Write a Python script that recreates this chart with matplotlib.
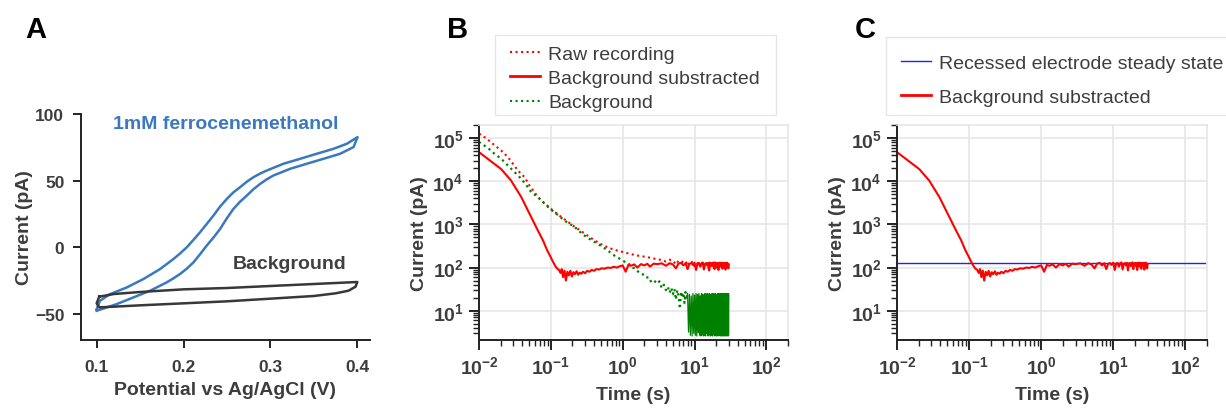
import matplotlib
matplotlib.use("Agg")
import matplotlib.pyplot as plt
import numpy as np
from matplotlib.ticker import FuncFormatter, LogLocator, NullFormatter
from matplotlib.lines import Line2D
from matplotlib.patches import Rectangle

plt.rcParams['font.family'] = ['Liberation Sans', 'DejaVu Sans']
plt.rcParams['mathtext.fontset'] = 'custom'
plt.rcParams['mathtext.rm'] = 'Liberation Sans:bold'
plt.rcParams['mathtext.bf'] = 'Liberation Sans:bold'
plt.rcParams['mathtext.it'] = 'Liberation Sans:bold'

# ---------------- Panel A: cyclic voltammograms ----------------
cv_fc_up_v = [0.1, 0.1038, 0.1154, 0.1346, 0.1538, 0.173, 0.1883, 0.196, 0.2037, 0.2113,
              0.219, 0.2267, 0.2344, 0.242, 0.2498, 0.2575, 0.2651, 0.273, 0.2805, 0.288,
              0.2958, 0.315, 0.3342, 0.3534, 0.3726, 0.388, 0.4003]
cv_fc_up_i = [-46.4, -40.1, -35.1, -30.1, -23.8, -16.3, -8.8, -4.6, 0, 5.5,
              11.3, 17.5, 23.8, 30.5, 36.3, 41.3, 45.1, 49.3, 52.6, 55.3,
              57.6, 62.7, 66.4, 70.2, 73.9, 77.7, 82.7]
cv_fc_dn_v = [0.4003, 0.3957, 0.3803, 0.3611, 0.3419, 0.3227, 0.3035, 0.2958, 0.2882, 0.2805,
              0.2728, 0.265, 0.2574, 0.2497, 0.2421, 0.2344, 0.2267, 0.219, 0.2114, 0.2037,
              0.196, 0.188, 0.1806, 0.1614, 0.1422, 0.123, 0.1]
cv_fc_dn_i = [82.7, 75.2, 70.2, 66.4, 62.7, 58.9, 53.9, 51.0, 47.6, 43.6,
              38.8, 34.2, 28.8, 21.6, 13.8, 7.3, 1.3, -5.2, -11.3, -16.0,
              -20, -23.4, -26.3, -32.6, -37.6, -42.6, -47.6]
cv_bg_v = [0.103, 0.12, 0.15, 0.2, 0.25, 0.3, 0.35, 0.4, 0.398, 0.39, 0.375, 0.35,
           0.3, 0.25, 0.2, 0.15, 0.12, 0.103, 0.1, 0.103]
cv_bg_i = [-37, -35, -33.5, -31.5, -30.5, -29, -27.5, -26, -29.5, -32.5, -34.5, -36.5,
           -38.5, -40.5, -42, -43.5, -44.5, -45, -42, -37]

# ---------------- Panels B and C: chronoamperometry ----------------
t_tail = [3.0, 3.5, 4.0, 4.5, 5.0, 5.5, 6.0, 6.5, 7.0, 7.5, 8.0, 8.5, 9.0, 9.5, 10.0,
          10.5, 11.0, 11.5, 12.0, 12.5, 13.0, 13.5, 14.0, 14.5, 15.0, 15.5, 16.0, 16.5,
          17.0, 17.5, 18.0, 18.5, 19.0, 19.5, 20.0, 20.5, 21.0, 21.5, 22.0, 22.5, 23.0,
          23.5, 24.0, 24.5, 25.0, 25.5, 26.0, 26.5, 27.0, 27.5, 28.0, 28.5, 29.0, 29.5, 30.0]

t_raw_head = [0.01, 0.0108, 0.0133, 0.0165, 0.0204, 0.0253, 0.0304, 0.0348, 0.0431, 0.0505,
              0.0597, 0.0697, 0.083, 0.1, 0.125, 0.163, 0.21, 0.264, 0.35, 0.48, 0.6, 0.75,
              1.0, 1.3, 1.6, 2.1, 2.6]
i_raw_head = [1.25e5, 1.19e5, 9.1e4, 6.8e4, 5.1e4, 3.6e4, 2.4e4, 1.76e4, 1.24e4, 7.9e3,
              5.4e3, 3.9e3, 3.0e3, 2.3e3, 1.7e3, 1.23e3, 900, 700, 500, 360, 300, 260,
              230, 205, 190, 176, 165]
i_raw_tail = [155, 150, 138, 152, 146, 118, 145, 140, 132, 142, 110, 138, 130, 140, 96,
              132, 125, 138, 100, 130, 135, 98, 128, 120, 134, 92, 126, 130, 105, 128,
              132, 95, 125, 130, 100, 127, 120, 133, 94, 126, 131, 102, 125, 130, 92,
              128, 122, 133, 98, 125, 130, 96, 127, 120, 112]

t_bg_head = [0.01, 0.0102, 0.0133, 0.0165, 0.0204, 0.0253, 0.0368, 0.0454, 0.0532, 0.066,
             0.0818, 0.1, 0.125, 0.16, 0.213, 0.28, 0.36, 0.48, 0.6, 0.73, 0.85, 1.0, 1.1,
             1.2, 1.35, 1.5, 1.7, 1.9, 2.1, 2.3, 2.5, 2.75]
i_bg_head = [8.2e4, 7.9e4, 5.9e4, 4.27e4, 3.3e4, 2.3e4, 1.24e4, 8.2e3, 5.6e3, 4.3e3,
             3.0e3, 2.2e3, 1.65e3, 1.18e3, 880, 580, 440, 330, 260, 200, 170, 148, 130,
             125, 100, 95, 75, 70, 58, 60, 46, 50]
t_bg_mid = [3.0, 3.25, 3.5, 3.75, 4.0, 4.25, 4.5, 4.75, 5.0, 5.25, 5.5, 5.75, 6.0, 6.25,
            6.5, 6.75, 7.0, 7.25, 7.5, 7.75, 8.0]
i_bg_mid = [42, 48, 33, 40, 30, 36, 26, 34, 24, 32, 18, 30, 22, 11,
            28, 20, 26, 15, 27, 18, 25]
t_bg_noise = [8.25, 8.5, 8.75, 9.0, 9.25, 9.5, 9.75, 10.0, 10.25, 10.5, 10.75, 11.0, 11.25,
              11.5, 11.75, 12.0, 12.25, 12.5, 12.75, 13.0, 13.25, 13.5, 13.75, 14.0, 14.25,
              14.5, 14.75, 15.0, 15.25, 15.5, 15.75, 16.0, 16.25, 16.5, 16.75, 17.0, 17.25,
              17.5, 17.75, 18.0, 18.25, 18.5, 18.75, 19.0, 19.25, 19.5, 19.75, 20.0, 20.25,
              20.5, 20.75, 21.0, 21.25, 21.5, 21.75, 22.0, 22.25, 22.5, 22.75, 23.0, 23.25,
              23.5, 23.75, 24.0, 24.25, 24.5, 24.75, 25.0, 25.25, 25.5, 25.75, 26.0, 26.25,
              26.5, 26.75, 27.0, 27.25, 27.5, 27.75, 28.0, 28.25, 28.5, 28.75, 29.0, 29.25,
              29.5, 29.75, 30.0]
i_bg_noise = [3.2, 24, 2.7, 22, 2.6, 25, 3.0, 23, 2.7, 25, 2.6, 24, 3.1, 25, 2.7, 22, 2.6,
              25, 2.9, 24, 2.6, 23, 2.7, 25, 2.6, 24, 3.0, 25, 2.7, 22, 2.6, 25, 2.8, 24,
              2.6, 23, 2.7, 25, 2.6, 24, 3.0, 25, 2.7, 23, 2.6, 25, 2.8, 24, 2.6, 22, 2.7,
              25, 2.6, 24, 3.0, 25, 2.7, 23, 2.6, 25, 2.8, 24, 2.6, 25, 2.7, 23, 2.6, 25,
              2.9, 24, 2.6, 22, 2.7, 25, 2.6, 24, 3.0, 25, 2.7, 23, 2.6, 25, 2.8, 24, 2.6,
              25, 2.7, 24]

t_sub_head = [0.01, 0.0204, 0.028, 0.0387, 0.0505, 0.066, 0.078, 0.088, 0.097, 0.105, 0.114,
              0.122, 0.13, 0.136, 0.142, 0.148, 0.155, 0.162, 0.17, 0.178, 0.187, 0.196,
              0.206, 0.216, 0.228, 0.24, 0.252, 0.266, 0.28, 0.3, 0.32, 0.345, 0.37, 0.4,
              0.43, 0.47, 0.51, 0.56, 0.62, 0.68, 0.75, 0.83, 0.92, 1.0, 1.1, 1.2, 1.3,
              1.45, 1.6, 1.8, 2.0, 2.2, 2.4, 2.7]
i_sub_head = [4.7e4, 1.9e4, 1.03e4, 4.3e3, 1.76e3, 720, 420, 260, 190, 145, 112,
              95, 88, 75, 92, 60, 85, 50, 80, 66, 84, 62,
              78, 70, 82, 68, 76, 72, 80, 74, 84, 80, 88, 84,
              92, 90, 96, 94, 100, 98, 104, 100, 108, 112, 80, 115, 110,
              118, 100, 120, 112, 122, 105, 123]
i_sub_tail = [120, 125, 110, 126, 118, 96, 124, 128, 112, 126, 92, 122, 127, 115, 130,
              88, 124, 128, 105, 126, 131, 90, 122, 127, 112, 129, 86, 124, 128, 108,
              126, 132, 92, 123, 128, 110, 127, 88, 125, 130, 106, 124, 129, 94, 122,
              128, 112, 126, 90, 124, 130, 104, 125, 96, 118]

steady_state = 130  # pA, recessed electrode steady state

xlim_log = (0.01, 200)
ylim_log = (2.1, 2e5)

W, H = 1226, 410
fig = plt.figure(figsize=(W / 100, H / 100), dpi=100)

TXT = '#3d3d3d'
TICKC = '#222222'
BLUE_A = '#3a78bf'

# ---- Panel A ----
axA = fig.add_axes([81 / W, 69 / H, 289 / W, 226 / H])
axA.plot(cv_fc_up_v + cv_fc_dn_v, cv_fc_up_i + cv_fc_dn_i, color=BLUE_A, lw=1.8,
         solid_joinstyle='round')
axA.plot(cv_bg_v, cv_bg_i, color='#383838', lw=1.8, solid_joinstyle='round')
axA.set_xlim(0.082, 0.4146)
axA.set_ylim(-69.5, 100)
axA.set_xticks([0.1, 0.2, 0.3, 0.4])
axA.set_yticks([-50, 0, 50, 100])
for s in ['top', 'right']:
    axA.spines[s].set_visible(False)
for s in ['left', 'bottom']:
    axA.spines[s].set_linewidth(1.4)
    axA.spines[s].set_color(TICKC)
axA.tick_params(direction='out', length=6, width=1.4, color=TICKC, labelsize=12.5,
                labelcolor=TXT)
axA.tick_params(axis='x', pad=8)
axA.tick_params(axis='y', pad=6)
for lab in axA.get_xticklabels() + axA.get_yticklabels():
    lab.set_fontweight('bold')
axA.set_xlabel('Potential vs Ag/AgCl (V)', fontsize=14, fontweight='bold', color=TXT, labelpad=5)
axA.set_ylabel('Current (pA)', fontsize=14, fontweight='bold', color=TXT, labelpad=1)
axA.text(0.249, 93, '1mM ferrocenemethanol', color=BLUE_A, fontsize=14,
         fontweight='bold', ha='center', va='center')
axA.text(0.3224, -12.5, 'Background', color='#404040', fontsize=14,
         fontweight='bold', ha='center', va='center')


def log_fmt(v, p):
    e = int(round(np.log10(v)))
    return r'$\mathbf{10^{%d}}$' % e


def style_log(ax):
    ax.set_xscale('log')
    ax.set_yscale('log')
    ax.set_xlim(*xlim_log)
    ax.set_ylim(*ylim_log)
    ax.xaxis.set_major_locator(LogLocator(base=10, numticks=10))
    ax.yaxis.set_major_locator(LogLocator(base=10, numticks=10))
    ax.xaxis.set_minor_locator(LogLocator(base=10, subs=np.arange(2, 10), numticks=20))
    ax.yaxis.set_minor_locator(LogLocator(base=10, subs=np.arange(2, 10), numticks=20))
    ax.xaxis.set_major_formatter(FuncFormatter(log_fmt))
    ax.yaxis.set_major_formatter(FuncFormatter(log_fmt))
    ax.xaxis.set_minor_formatter(NullFormatter())
    ax.yaxis.set_minor_formatter(NullFormatter())
    ax.grid(True, which='major', color='#e6e6e6', lw=1.2)
    ax.set_axisbelow(True)
    for s in ['top', 'right']:
        ax.spines[s].set_color('#e6e6e6')
        ax.spines[s].set_linewidth(1.2)
    for s in ['left', 'bottom']:
        ax.spines[s].set_color(TICKC)
        ax.spines[s].set_linewidth(1.4)
    ax.tick_params(which='major', direction='out', length=7, width=1.4, color=TICKC,
                   labelsize=14, labelcolor=TXT, pad=4, top=False, right=False)
    ax.tick_params(which='minor', direction='out', length=4.5, width=1.0, color=TICKC,
                   top=False, right=False)
    ax.set_xlabel('Time (s)', fontsize=14, fontweight='bold', color=TXT, labelpad=6)
    ax.set_ylabel('Current (pA)', fontsize=14, fontweight='bold', color=TXT, labelpad=3)


def frame_box(x0, y0, x1, y1):
    fig.add_artist(Rectangle((x0 / W, 1 - y1 / H), (x1 - x0) / W, (y1 - y0) / H,
                             transform=fig.transFigure, fill=False,
                             edgecolor='#e6e6e6', lw=1.0, zorder=0))


# ---- Panel B ----
axB = fig.add_axes([479 / W, 69 / H, 309 / W, 215 / H])
style_log(axB)
axB.plot(t_raw_head + t_tail, i_raw_head + i_raw_tail, color='#ff0000', ls=':', lw=1.5)
axB.plot(t_bg_head + t_bg_mid, i_bg_head + i_bg_mid, color='#008000', ls=':', lw=1.6)
# dense noisy end of the background recording (renders as a filled band)
axB.plot(t_bg_mid[-1:] + t_bg_noise, i_bg_mid[-1:] + i_bg_noise, color='#008000',
         ls='-', lw=0.9)
axB.plot(t_sub_head + t_tail, i_sub_head + i_sub_tail, color='#ff0000', ls='-', lw=1.5)
handlesB = [Line2D([], [], color='#ff0000', ls=':', lw=1.5),
            Line2D([], [], color='#ff0000', ls='-', lw=2),
            Line2D([], [], color='#008000', ls=':', lw=1.5)]
frame_box(495, 36, 776, 116)
axB.legend(handlesB, ['Raw recording', 'Background substracted', 'Background'],
           loc='upper left', bbox_to_anchor=(510 / W, 1 - 46 / H),
           bbox_transform=fig.transFigure, borderaxespad=0, borderpad=0, fontsize=14,
           frameon=False, labelspacing=0.35, handlelength=1.55, handletextpad=0.41,
           labelcolor=TXT)

# ---- Panel C ----
axC = fig.add_axes([897 / W, 69 / H, 310 / W, 215 / H])
style_log(axC)
axC.axhline(steady_state, color='#2020ff', lw=1.0)
axC.plot(t_sub_head + t_tail, i_sub_head + i_sub_tail, color='#ff0000', ls='-', lw=1.5)
handlesC = [Line2D([], [], color='#2020ff', lw=1.0),
            Line2D([], [], color='#ff0000', lw=2)]
frame_box(886, 38, 1240, 116)
axC.legend(handlesC, ['Recessed electrode steady state', 'Background substracted'],
           loc='upper left', bbox_to_anchor=(901 / W, 1 - 55 / H),
           bbox_transform=fig.transFigure, borderaxespad=0, borderpad=0, fontsize=14,
           frameon=False, labelspacing=0.87, handlelength=1.55, handletextpad=0.41,
           labelcolor=TXT)

# ---- Panel letters ----
for x, letter in [(25, 'A'), (447, 'B'), (855, 'C')]:
    fig.text(x / W, 1 - 38 / H, letter, fontsize=21, fontweight='bold', color='black',
             va='baseline', ha='left')

fig.savefig('out.png', dpi=100)
